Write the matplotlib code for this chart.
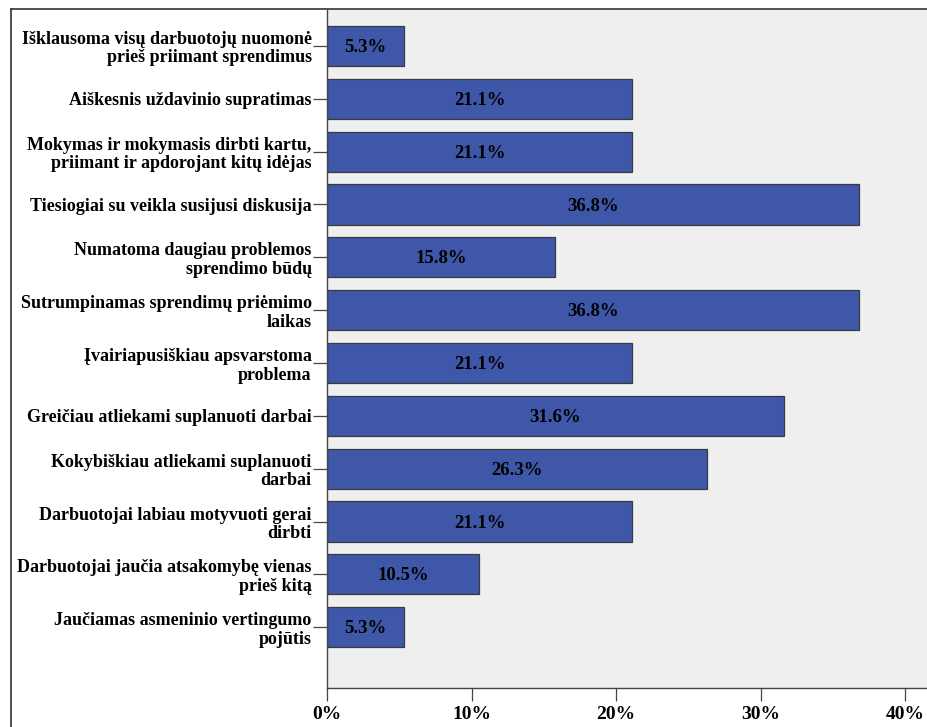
import matplotlib.pyplot as plt
from matplotlib.lines import Line2D

categories = [
    "Išklausoma visų darbuotojų nuomonė\nprieš priimant sprendimus",
    "Aiškesnis uždavinio supratimas",
    "Mokymas ir mokymasis dirbti kartu,\npriimant ir apdorojant kitų idėjas",
    "Tiesiogiai su veikla susijusi diskusija",
    "Numatoma daugiau problemos\nsprendimo būdų",
    "Sutrumpinamas sprendimų priėmimo\nlaikas",
    "Įvairiapusiškiau apsvarstoma\nproblema",
    "Greičiau atliekami suplanuoti darbai",
    "Kokybiškiau atliekami suplanuoti\ndarbai",
    "Darbuotojai labiau motyvuoti gerai\ndirbti",
    "Darbuotojai jaučia atsakomybę vienas\nprieš kitą",
    "Jaučiamas asmeninio vertingumo\npojūtis",
]
percent = [5.3, 21.1, 21.1, 36.8, 15.8, 36.8, 21.1, 31.6, 26.3, 21.1, 10.5, 5.3]
x_ticks = [0, 10, 20, 30, 40]
x_tick_labels = ["0%", "10%", "20%", "30%", "40%"]

plt.rcParams["font.family"] = ["Liberation Serif", "DejaVu Serif"]
plt.rcParams["font.weight"] = "bold"

W, H = 927, 727
fig = plt.figure(figsize=(W / 100, H / 100), dpi=100)
fig.patch.set_facecolor("white")

ax = fig.add_axes([327 / W, (H - 688) / H, 1 - 327 / W, (688 - 10) / H])
ax.set_facecolor("#efefef")

pos = list(range(len(categories)))
ax.barh(pos, percent, height=0.76, color="#3f57a9", edgecolor="#3a3a3a", linewidth=0.9, zorder=2)
for y, v in zip(pos, percent):
    ax.text(v / 2, y + 0.03, f"{v:.1f}%", ha="center", va="center", fontsize=13.5,
            fontweight="bold", color="black", zorder=3)

ax.set_xlim(0, 41.5)
ax.set_ylim(12.15, -0.68)

ax.set_yticks(pos)
ax.set_yticklabels(categories, fontsize=13, fontweight="bold", ha="right",
                   multialignment="right", linespacing=1.12)
ax.set_xticks(x_ticks)
ax.set_xticklabels(x_tick_labels, fontsize=14, fontweight="bold")

ax.tick_params(axis="y", length=10, width=0.9, color="#444444", pad=1)
ax.tick_params(axis="x", length=9, width=0.9, color="#444444", pad=4)

for side in ["top", "right"]:
    ax.spines[side].set_visible(False)
ax.spines["left"].set_color("#444444")
ax.spines["bottom"].set_color("#444444")
ax.spines["left"].set_linewidth(1.0)
ax.spines["bottom"].set_linewidth(1.0)

# outer frame around the chart
fig.add_artist(Line2D([11 / W, 11 / W], [0, (H - 9) / H], color="#333333", linewidth=1.2))
fig.add_artist(Line2D([11 / W, 1], [(H - 9) / H, (H - 9) / H], color="#333333", linewidth=1.2))

fig.savefig("out.png", dpi=100)
